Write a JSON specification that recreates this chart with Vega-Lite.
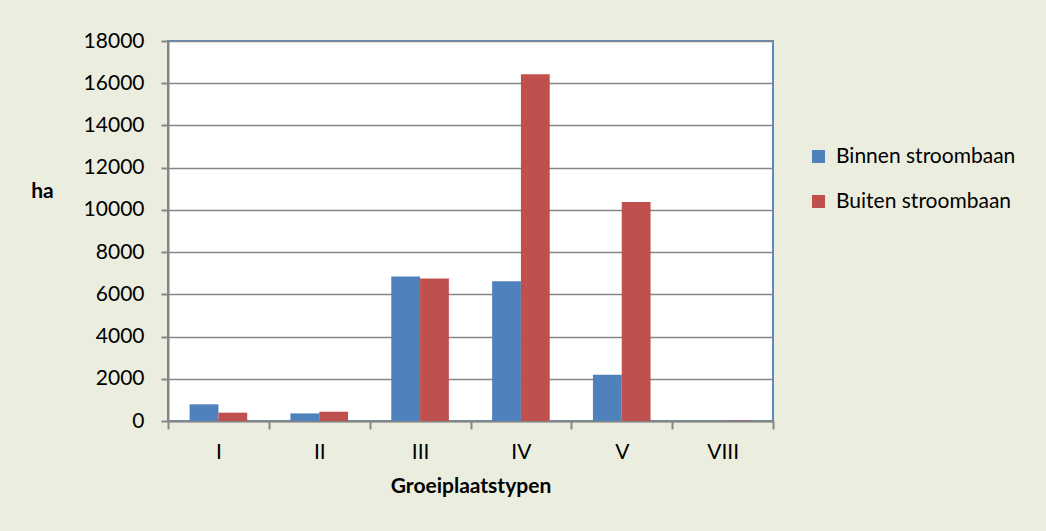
{
  "$schema": "https://vega.github.io/schema/vega-lite/v6.json",
  "autosize": {"type": "none"},
  "width": 605,
  "height": 380,
  "padding": {"left": 168, "top": 41, "right": 273, "bottom": 110},
  "background": "#EBEEDF",
  "config": {
    "font": "Lato",
    "view": {"fill": "#FFFFFF", "stroke": "#5B87C2", "strokeWidth": 2}
  },
  "data": {
    "values": [
      {"type": "I", "series": "Binnen stroombaan", "ha": 790},
      {"type": "I", "series": "Buiten stroombaan", "ha": 395},
      {"type": "II", "series": "Binnen stroombaan", "ha": 360},
      {"type": "II", "series": "Buiten stroombaan", "ha": 440},
      {"type": "III", "series": "Binnen stroombaan", "ha": 6850},
      {"type": "III", "series": "Buiten stroombaan", "ha": 6745},
      {"type": "IV", "series": "Binnen stroombaan", "ha": 6615},
      {"type": "IV", "series": "Buiten stroombaan", "ha": 16430},
      {"type": "V", "series": "Binnen stroombaan", "ha": 2195},
      {"type": "V", "series": "Buiten stroombaan", "ha": 10375},
      {"type": "VIII", "series": "Binnen stroombaan", "ha": 0},
      {"type": "VIII", "series": "Buiten stroombaan", "ha": 15}
    ]
  },
  "mark": {"type": "bar"},
  "encoding": {
    "x": {
      "field": "type",
      "type": "nominal",
      "sort": ["I", "II", "III", "IV", "V", "VIII"],
      "scale": {"paddingInner": 0, "paddingOuter": 0},
      "axis": {
        "title": "Groeiplaatstypen",
        "titleFont": "Lato",
        "titleFontSize": 21,
        "titleFontWeight": "bold",
        "titleColor": "#000000",
        "titlePadding": 13,
        "labelAngle": 0,
        "labelFont": "Lato",
        "labelFontSize": 21,
        "labelColor": "#000000",
        "labelPadding": 12,
        "tickBand": "extent",
        "tickSize": 8,
        "tickColor": "#868686",
        "tickWidth": 2,
        "domainColor": "#868686",
        "domainWidth": 2
      }
    },
    "xOffset": {"field": "series", "type": "nominal", "scale": {"paddingInner": 0, "paddingOuter": 0.75}},
    "y": {
      "field": "ha",
      "type": "quantitative",
      "scale": {"domain": [0, 18000], "nice": false},
      "axis": {
        "title": "ha",
        "titleAngle": 0,
        "titleAlign": "center",
        "titleBaseline": "alphabetic",
        "titleX": -126,
        "titleY": 156,
        "titleFont": "Lato",
        "titleFontSize": 21,
        "titleFontWeight": "bold",
        "titleColor": "#000000",
        "values": [0, 2000, 4000, 6000, 8000, 10000, 12000, 14000, 16000, 18000],
        "format": "d",
        "labelFont": "Lato",
        "labelFontSize": 21,
        "labelColor": "#000000",
        "labelPadding": 17,
        "tickSize": 7,
        "tickColor": "#868686",
        "tickWidth": 2,
        "domainColor": "#868686",
        "domainWidth": 2,
        "grid": true,
        "gridColor": "#868686",
        "gridWidth": 1.5
      }
    },
    "color": {
      "field": "series",
      "type": "nominal",
      "scale": {"domain": ["Binnen stroombaan", "Buiten stroombaan"], "range": ["#4F81BD", "#C0504D"]},
      "legend": {
        "title": null,
        "orient": "none",
        "legendX": 640,
        "legendY": 105,
        "symbolType": "square",
        "symbolSize": 170,
        "symbolStrokeWidth": 0,
        "symbolOpacity": 1,
        "labelFont": "Lato",
        "labelFontSize": 21,
        "labelColor": "#000000",
        "labelOffset": 7,
        "labelLimit": 400,
        "rowPadding": 23
      }
    }
  }
}
